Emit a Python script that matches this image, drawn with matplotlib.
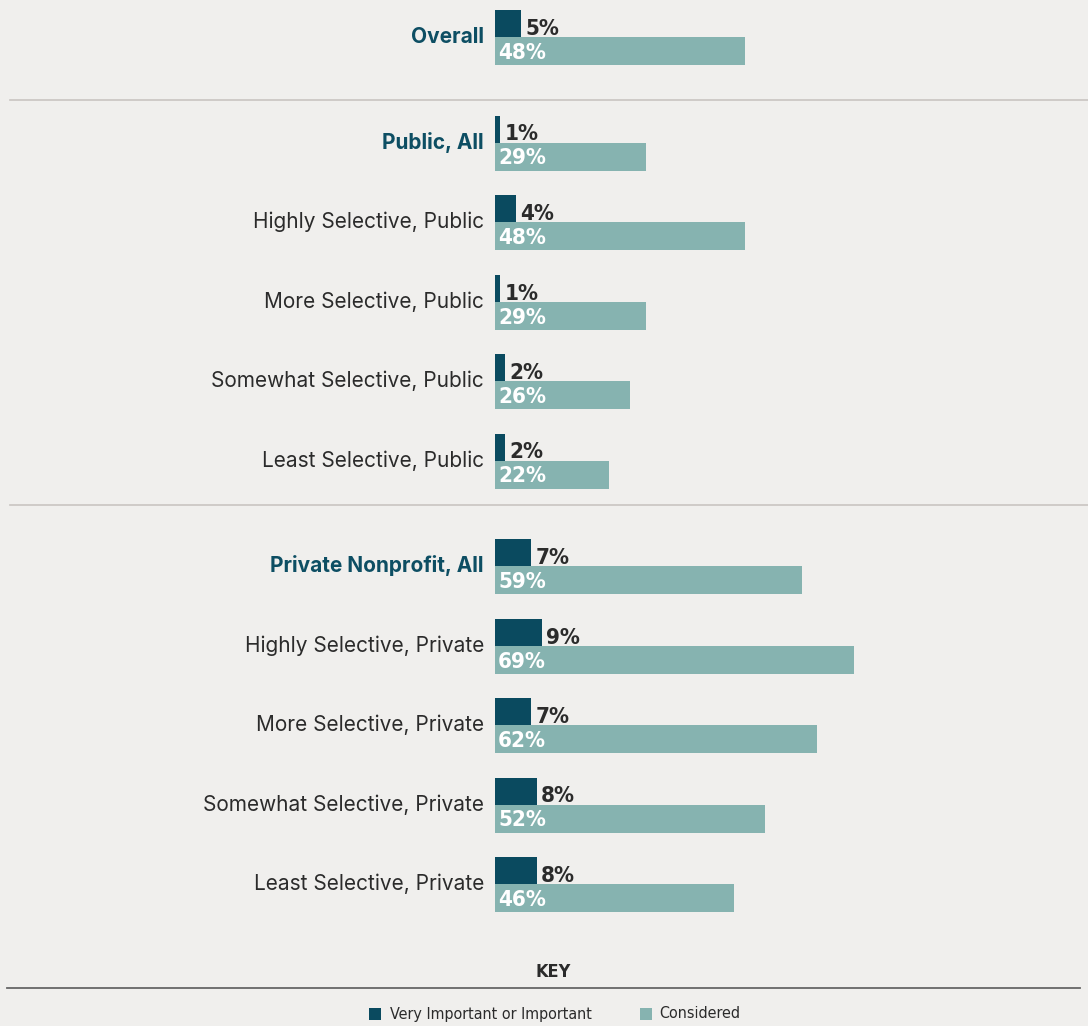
import numpy as np
import matplotlib
matplotlib.use("Agg")
import matplotlib.pyplot as plt
from matplotlib.patches import Rectangle
from matplotlib.lines import Line2D

# data (percent)
CATEGORIES = [
    "Overall",
    "Public, All",
    "Highly Selective, Public",
    "More Selective, Public",
    "Somewhat Selective, Public",
    "Least Selective, Public",
    "Private Nonprofit, All",
    "Highly Selective, Private",
    "More Selective, Private",
    "Somewhat Selective, Private",
    "Least Selective, Private",
]
HEADERS = {"Overall", "Public, All", "Private Nonprofit, All"}
GROUP = [0, 1, 1, 1, 1, 1, 2, 2, 2, 2, 2]
IMPORTANT = [5, 1, 4, 1, 2, 2, 7, 9, 7, 8, 8]
CONSIDERED = [48, 29, 48, 29, 26, 22, 59, 69, 62, 52, 46]

DARK = "#0a4a5f"
LIGHT = "#86b3b0"
BG = "#f0efed"
HEAD = "#0d4e63"
TXT = "#2b2b2b"

W, H = 1088, 1026
X0 = 495            # pixel where bars start
PX_PER_PCT = 5.2
PITCH, GAP, TOP = 79.5, 26, 37

COND = dict(family="DejaVu Sans", fontstretch="condensed")
LABEL = ["Inter", "DejaVu Sans"]

fig = plt.figure(figsize=(W / 100, H / 100), dpi=100, facecolor=BG)
ax = fig.add_axes([X0 / W, 0, (W - X0) / W, 1])
ax.set_facecolor(BG)
ax.set_xlim(0, (W - X0) / PX_PER_PCT)
ax.set_ylim(H, 0)
ax.axis("off")

ys = [TOP + i * PITCH + g * GAP for i, g in enumerate(GROUP)]

for cat, y, imp, con in zip(CATEGORIES, ys, IMPORTANT, CONSIDERED):
    ax.barh(y - 27, imp, height=27, align="edge", color=DARK, linewidth=0)
    ax.barh(y, con, height=28, align="edge", color=LIGHT, linewidth=0)
    ax.text(imp + 0.8, y - 2, f"{imp}%", ha="left", va="baseline",
            fontsize=16, fontweight="bold", color=TXT, **COND)
    ax.text(0.6, y + 22, f"{con}%", ha="left", va="baseline",
            fontsize=16, fontweight="bold", color="white", **COND)
    head = cat in HEADERS
    fig.text((X0 - 11) / W, 1 - y / H, cat, ha="right", va="center",
             fontsize=15, family=LABEL,
             fontweight="bold" if head else "normal",
             color=HEAD if head else TXT)

# group separators
for yy in (100, 505):
    fig.add_artist(Line2D([10 / W, 1], [1 - yy / H] * 2, color="#c9c4c1",
                          lw=1.2, transform=fig.transFigure))

# key
fig.text(553 / W, 1 - 972 / H, "KEY", ha="center", va="center", fontsize=13,
         fontweight="bold", color=TXT, **COND)
fig.add_artist(Line2D([7 / W, 1080 / W], [1 - 988 / H] * 2, color="#666666",
                      lw=1.3, transform=fig.transFigure))
for xs, xt, col, lab in [(369, 390, DARK, "Very Important or Important"),
                         (640, 659, LIGHT, "Considered")]:
    fig.add_artist(Rectangle((xs / W, 1 - 1020 / H), 12 / W, 12 / H,
                             color=col, lw=0, transform=fig.transFigure))
    fig.text(xt / W, 1 - 1014 / H, lab, ha="left", va="center", fontsize=11.5,
             color=TXT, **COND)

fig.savefig("out.png", dpi=100, facecolor=BG)
